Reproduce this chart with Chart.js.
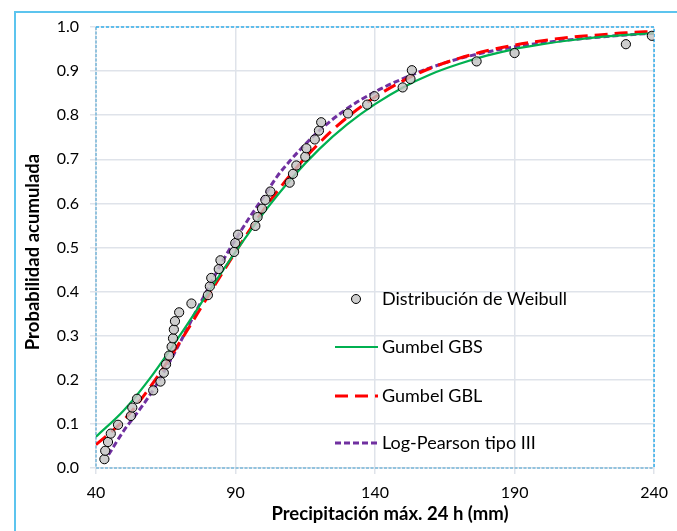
<!DOCTYPE html>
<html><head><meta charset="utf-8">
<script src="https://cdn.jsdelivr.net/npm/chart.js@4.4.1/dist/chart.umd.min.js"></script>
<style>
html,body{margin:0;padding:0;background:#fff;}
#wrap{position:relative;width:677px;height:531px;overflow:hidden;}
#frame{position:absolute;left:14px;top:11px;width:720px;height:600px;border-left:2px solid #5cc4ee;border-top:2px solid #5cc4ee;}
canvas{position:absolute;left:0;top:0;}
</style></head><body>
<div id="wrap"><div id="frame"></div><canvas id="c" width="677" height="531"></canvas></div>
<script>
const weibullX = [43.0,43.3,44.3,45.3,47.9,52.5,53.0,54.7,60.5,63.1,64.3,65.1,66.2,67.1,67.6,67.9,68.3,69.8,74.2,80.1,80.8,81.3,84.0,84.6,89.5,89.9,90.9,97.1,97.9,99.5,100.7,102.5,109.4,110.6,111.8,115.0,115.4,118.4,119.9,120.7,130.3,137.2,139.8,149.9,152.7,153.2,176.4,190.0,229.9,239.2];
const weibullP = [0.020,0.039,0.059,0.078,0.098,0.118,0.137,0.157,0.176,0.196,0.216,0.235,0.255,0.275,0.294,0.314,0.333,0.353,0.373,0.392,0.412,0.431,0.451,0.471,0.490,0.510,0.529,0.549,0.569,0.588,0.608,0.627,0.647,0.667,0.686,0.706,0.725,0.745,0.765,0.784,0.804,0.824,0.843,0.863,0.882,0.902,0.922,0.941,0.961,0.980];
const curveX = [40,50,60,70,80,90,100,110,120,130,140,150,160,170,180,190,200,210,220,230,240];
const gbsP = [0.071,0.131,0.209,0.300,0.396,0.490,0.578,0.656,0.723,0.779,0.825,0.863,0.893,0.916,0.935,0.950,0.961,0.970,0.977,0.982,0.986];
const gblP = [0.053,0.109,0.189,0.285,0.388,0.490,0.585,0.667,0.737,0.795,0.841,0.878,0.907,0.929,0.946,0.959,0.969,0.977,0.982,0.987,0.990];
const lp3X = [44.5,50,55,60,65,70,75,80,85,90,95,100,105,110,115,120,130,140,150,160,170,180,190,200,210,220,230,240];
const lp3P = [0.030,0.085,0.127,0.172,0.225,0.283,0.345,0.405,0.465,0.518,0.568,0.614,0.662,0.700,0.734,0.765,0.815,0.853,0.883,0.908,0.928,0.943,0.955,0.964,0.971,0.977,0.982,0.986];
const xTicks = [40,90,140,190,240];
const seriesNames = ['Distribución de Weibull','Gumbel GBS','Gumbel GBL','Log-Pearson tipo III'];
const xTitle = 'Precipitación máx. 24 h (mm)';
const yTitle = 'Probabilidad acumulada';

const pts = (xs, ys) => xs.map((x, i) => ({x: x, y: ys[i]}));
Chart.defaults.font.family = 'Lato, "Open Sans", sans-serif';
Chart.defaults.color = '#000';

const frameBorder = {
  id: 'frameBorder',
  beforeDatasetsDraw(chart) {
    const {ctx, chartArea: a} = chart;
    ctx.save();
    ctx.lineWidth = 2;
    ctx.setLineDash([3, 1.5]);
    ctx.strokeStyle = '#93c3de';
    ctx.beginPath();
    ctx.moveTo(a.left, a.top); ctx.lineTo(a.left, a.bottom); ctx.lineTo(a.right, a.bottom);
    ctx.stroke();
    ctx.lineWidth = 1.5;
    ctx.setLineDash([3, 2]);
    ctx.strokeStyle = '#33b0ec';
    ctx.beginPath();
    ctx.moveTo(a.left, a.top); ctx.lineTo(a.right, a.top); ctx.lineTo(a.right, a.bottom);
    ctx.stroke();
    ctx.restore();
  }
};

const axisTitles = {
  id: 'axisTitles',
  afterDraw(chart) {
    const {ctx, chartArea: a} = chart;
    ctx.save();
    ctx.fillStyle = '#000';
    ctx.font = 'bold 18.5px Lato, "Open Sans", sans-serif';
    ctx.textAlign = 'center';
    ctx.textBaseline = 'alphabetic';
    ctx.fillText(xTitle, a.left + 294, a.bottom + 52);
    ctx.translate(33, a.top + 225);
    ctx.rotate(-Math.PI / 2);
    ctx.textBaseline = 'middle';
    ctx.fillText(yTitle, 0, 0);
    ctx.restore();
  }
};

const innerLegend = {
  id: 'innerLegend',
  afterDraw(chart) {
    const {ctx, chartArea: a} = chart;
    const rows = [272, 320, 369, 416];
    ctx.save();
    chart.data.datasets.forEach((ds, i) => {
      const y = a.top + rows[i];
      if (i === 0) {
        ctx.beginPath();
        ctx.arc(a.left + 260, y, 4.5, 0, Math.PI * 2);
        ctx.fillStyle = ds.backgroundColor;
        ctx.fill();
        ctx.lineWidth = 1;
        ctx.strokeStyle = ds.borderColor;
        ctx.setLineDash([]);
        ctx.stroke();
      } else {
        ctx.beginPath();
        ctx.setLineDash(ds.borderDash || []);
        ctx.lineWidth = ds.borderWidth;
        ctx.strokeStyle = ds.borderColor;
        ctx.moveTo(a.left + 239, y); ctx.lineTo(a.left + 282, y);
        ctx.stroke();
      }
      ctx.setLineDash([]);
      ctx.fillStyle = '#000';
      ctx.font = '18px Lato, "Open Sans", sans-serif';
      ctx.textBaseline = 'middle';
      ctx.textAlign = 'left';
      ctx.fillText(seriesNames[i], a.left + 286, y);
    });
    ctx.restore();
  }
};

new Chart(document.getElementById('c'), {
  type: 'scatter',
  data: {
    datasets: [
      {label: seriesNames[0], data: pts(weibullX, weibullP), order: 0,
       backgroundColor: 'rgba(195,195,195,0.82)', borderColor: '#000', borderWidth: 1,
       pointRadius: 4.6, showLine: false},
      {label: seriesNames[1], data: pts(curveX, gbsP), order: 1, showLine: true,
       borderColor: '#00b050', borderWidth: 2.2, pointRadius: 0, cubicInterpolationMode: 'monotone', backgroundColor: '#00b050'},
      {label: seriesNames[2], data: pts(curveX, gblP), order: 2, showLine: true,
       borderColor: '#ff0000', borderWidth: 3, borderDash: [13, 7], pointRadius: 0, cubicInterpolationMode: 'monotone', backgroundColor: '#ff0000'},
      {label: seriesNames[3], data: pts(lp3X, lp3P), order: 3, showLine: true,
       borderColor: '#7030a0', borderWidth: 3, borderDash: [6, 3], pointRadius: 0, cubicInterpolationMode: 'monotone', backgroundColor: '#7030a0'}
    ]
  },
  options: {
    responsive: false, animation: false,
    layout: {padding: {left: 0, top: 27, right: 22, bottom: 0}},
    plugins: {legend: {display: false}, tooltip: {enabled: false}},
    scales: {
      x: {
        type: 'linear', min: 40, max: 240,
        afterBuildTicks: s => { s.ticks = xTicks.map(v => ({value: v})); },
        afterFit: s => { s.height = 63; },
        border: {display: false},
        grid: {color: '#dfe3ea', lineWidth: 1.5, tickLength: 6},
        ticks: {font: {size: 16}, padding: 9, maxRotation: 0, autoSkip: false},
        title: {display: false, text: xTitle}
      },
      y: {
        min: 0, max: 1,
        afterFit: s => { s.width = 96; },
        border: {display: false},
        grid: {color: '#dfe3ea', lineWidth: 1.5, tickLength: 6},
        ticks: {stepSize: 0.1, font: {size: 16}, padding: 11, callback: v => Number(v).toFixed(1)},
        title: {display: false, text: yTitle}
      }
    }
  },
  plugins: [frameBorder, axisTitles, innerLegend]
});
</script>
</body></html>
